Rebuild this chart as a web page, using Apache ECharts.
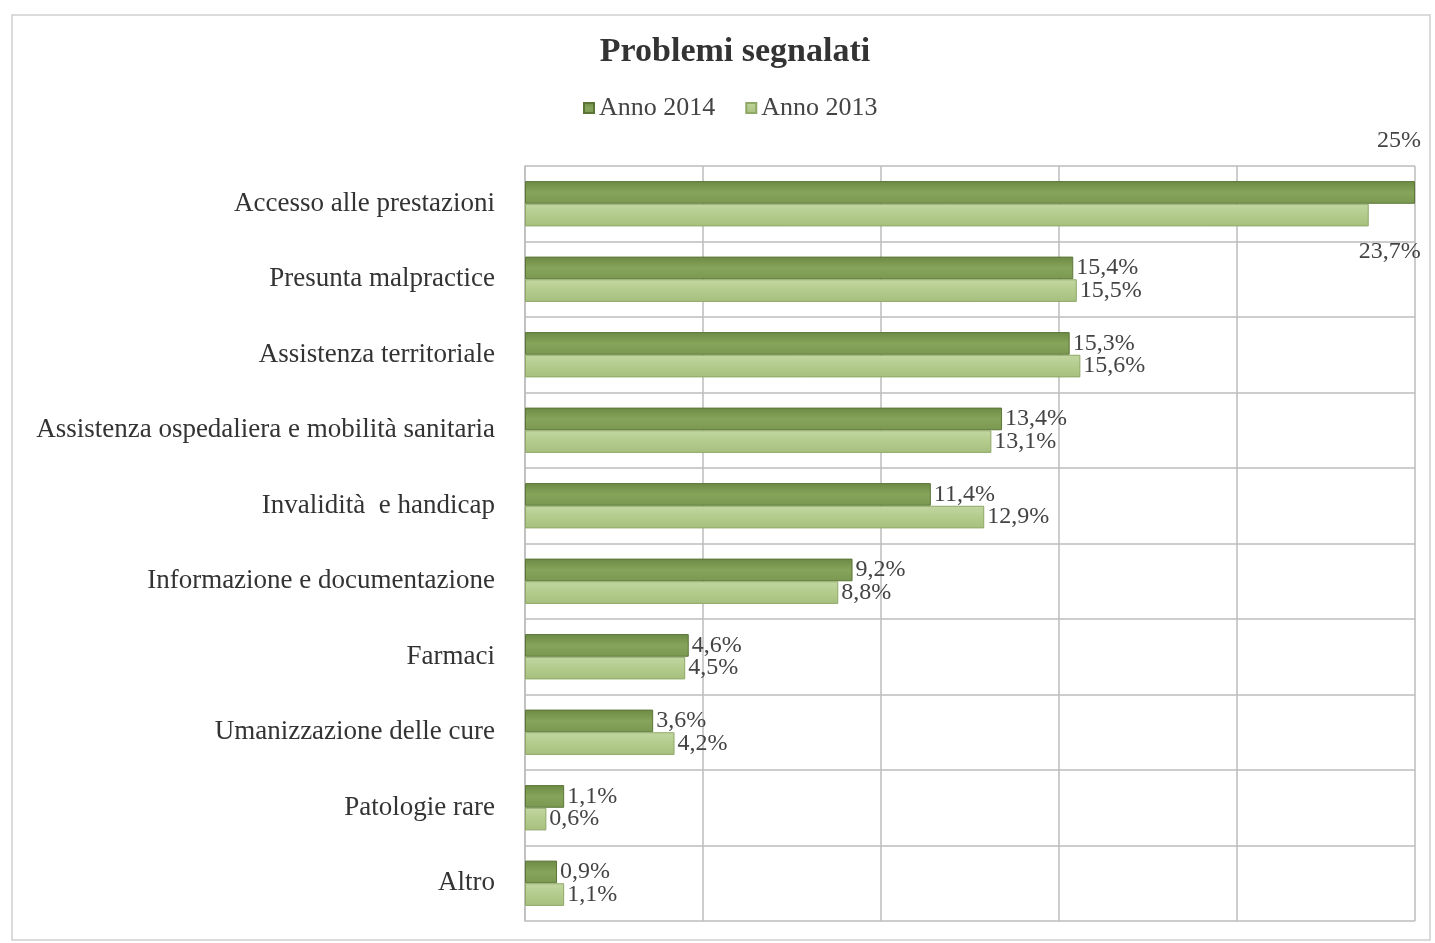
<!DOCTYPE html>
<html>
<head>
<meta charset="utf-8">
<script src="https://cdn.jsdelivr.net/npm/echarts@6/dist/echarts.min.js"></script>
<style>
html, body { margin: 0; padding: 0; background: #fff; }
#container { width: 1435px; height: 943px; }
</style>
</head>
<body>
<div id="container"></div>
<script>
var dom = document.getElementById("container");
var myChart = echarts.init(dom);

var categories = [
    'Accesso alle prestazioni',
    'Presunta malpractice',
    'Assistenza territoriale',
    'Assistenza ospedaliera e mobilità sanitaria',
    'Invalidità  e handicap',
    'Informazione e documentazione',
    'Farmaci',
    'Umanizzazione delle cure',
    'Patologie rare',
    'Altro'
];
var anno2014 = [25, 15.4, 15.3, 13.4, 11.4, 9.2, 4.6, 3.6, 1.1, 0.9];
var anno2013 = [23.7, 15.5, 15.6, 13.1, 12.9, 8.8, 4.5, 4.2, 0.6, 1.1];

var serif = '"Liberation Serif", "DejaVu Serif", serif';

function pct(p) {
    var v = p.value;
    return (Math.round(v) === v ? String(v) : v.toFixed(1).replace('.', ',')) + '%';
}

// the first row's labels sit above / below the bars, as in the original
var data2014 = anno2014.map(function (v, i) {
    if (i === 0) {
        return { value: v, label: { position: ['100%', -40], align: 'right', verticalAlign: 'middle', offset: [6, 0] } };
    }
    return v;
});
var data2013 = anno2013.map(function (v, i) {
    if (i === 0) {
        return { value: v, label: { position: ['100%', '100%'], align: 'right', verticalAlign: 'top', offset: [52, 13] } };
    }
    return v;
});

var labelStyle = {
    show: true,
    position: 'right',
    distance: 3,
    formatter: pct,
    fontFamily: serif,
    fontSize: 24,
    color: '#444'
};

var option = {
    backgroundColor: '#fff',
    title: {
        text: 'Problemi segnalati',
        left: 730,
        textAlign: 'center',
        top: 30,
        textStyle: { fontFamily: serif, fontSize: 34, fontWeight: 'bold', color: '#333' }
    },
    legend: {
        top: 90,
        left: 578,
        itemWidth: 10,
        itemHeight: 10,
        itemGap: 30,
        icon: 'rect',
        textStyle: { fontFamily: serif, fontSize: 26, color: '#444' },
        data: ['Anno 2014', 'Anno 2013']
    },
    graphic: [{
        type: 'rect',
        shape: { x: 12, y: 15, width: 1418, height: 925 },
        style: { fill: 'none', stroke: '#cfcfcf', lineWidth: 1.5 },
        silent: true
    }],
    grid: {
        left: 525,
        right: 20,
        top: 166,
        bottom: 22
    },
    xAxis: {
        type: 'value',
        min: 0,
        max: 25,
        interval: 5,
        axisLabel: { show: false },
        axisLine: { show: false },
        axisTick: { show: false },
        splitLine: { show: true, lineStyle: { color: '#bdbdbd', width: 1.5 } }
    },
    yAxis: {
        type: 'category',
        inverse: true,
        data: categories,
        axisLine: { show: true, lineStyle: { color: '#bdbdbd', width: 1.5 } },
        axisTick: { show: false },
        splitLine: { show: true, lineStyle: { color: '#bdbdbd', width: 1.5 } },
        axisLabel: {
            fontFamily: serif,
            fontSize: 27,
            color: '#333',
            margin: 30
        }
    },
    series: [{
        name: 'Anno 2014',
        type: 'bar',
        data: data2014,
        barGap: '0%',
        barCategoryGap: '40%',
        itemStyle: {
            color: new echarts.graphic.LinearGradient(0, 0, 0, 1, [
                { offset: 0, color: '#6d8a45' },
                { offset: 0.5, color: '#86a45a' },
                { offset: 1, color: '#7a9850' }
            ]),
            borderColor: '#5b7537',
            borderWidth: 1
        },
        label: labelStyle
    }, {
        name: 'Anno 2013',
        type: 'bar',
        data: data2013,
        itemStyle: {
            color: new echarts.graphic.LinearGradient(0, 0, 0, 1, [
                { offset: 0, color: '#c2d7a2' },
                { offset: 0.5, color: '#b3cb8c' },
                { offset: 1, color: '#a6bf7e' }
            ]),
            borderColor: '#8ea866',
            borderWidth: 1
        },
        label: labelStyle
    }]
};

myChart.setOption(option);
</script>
</body>
</html>
